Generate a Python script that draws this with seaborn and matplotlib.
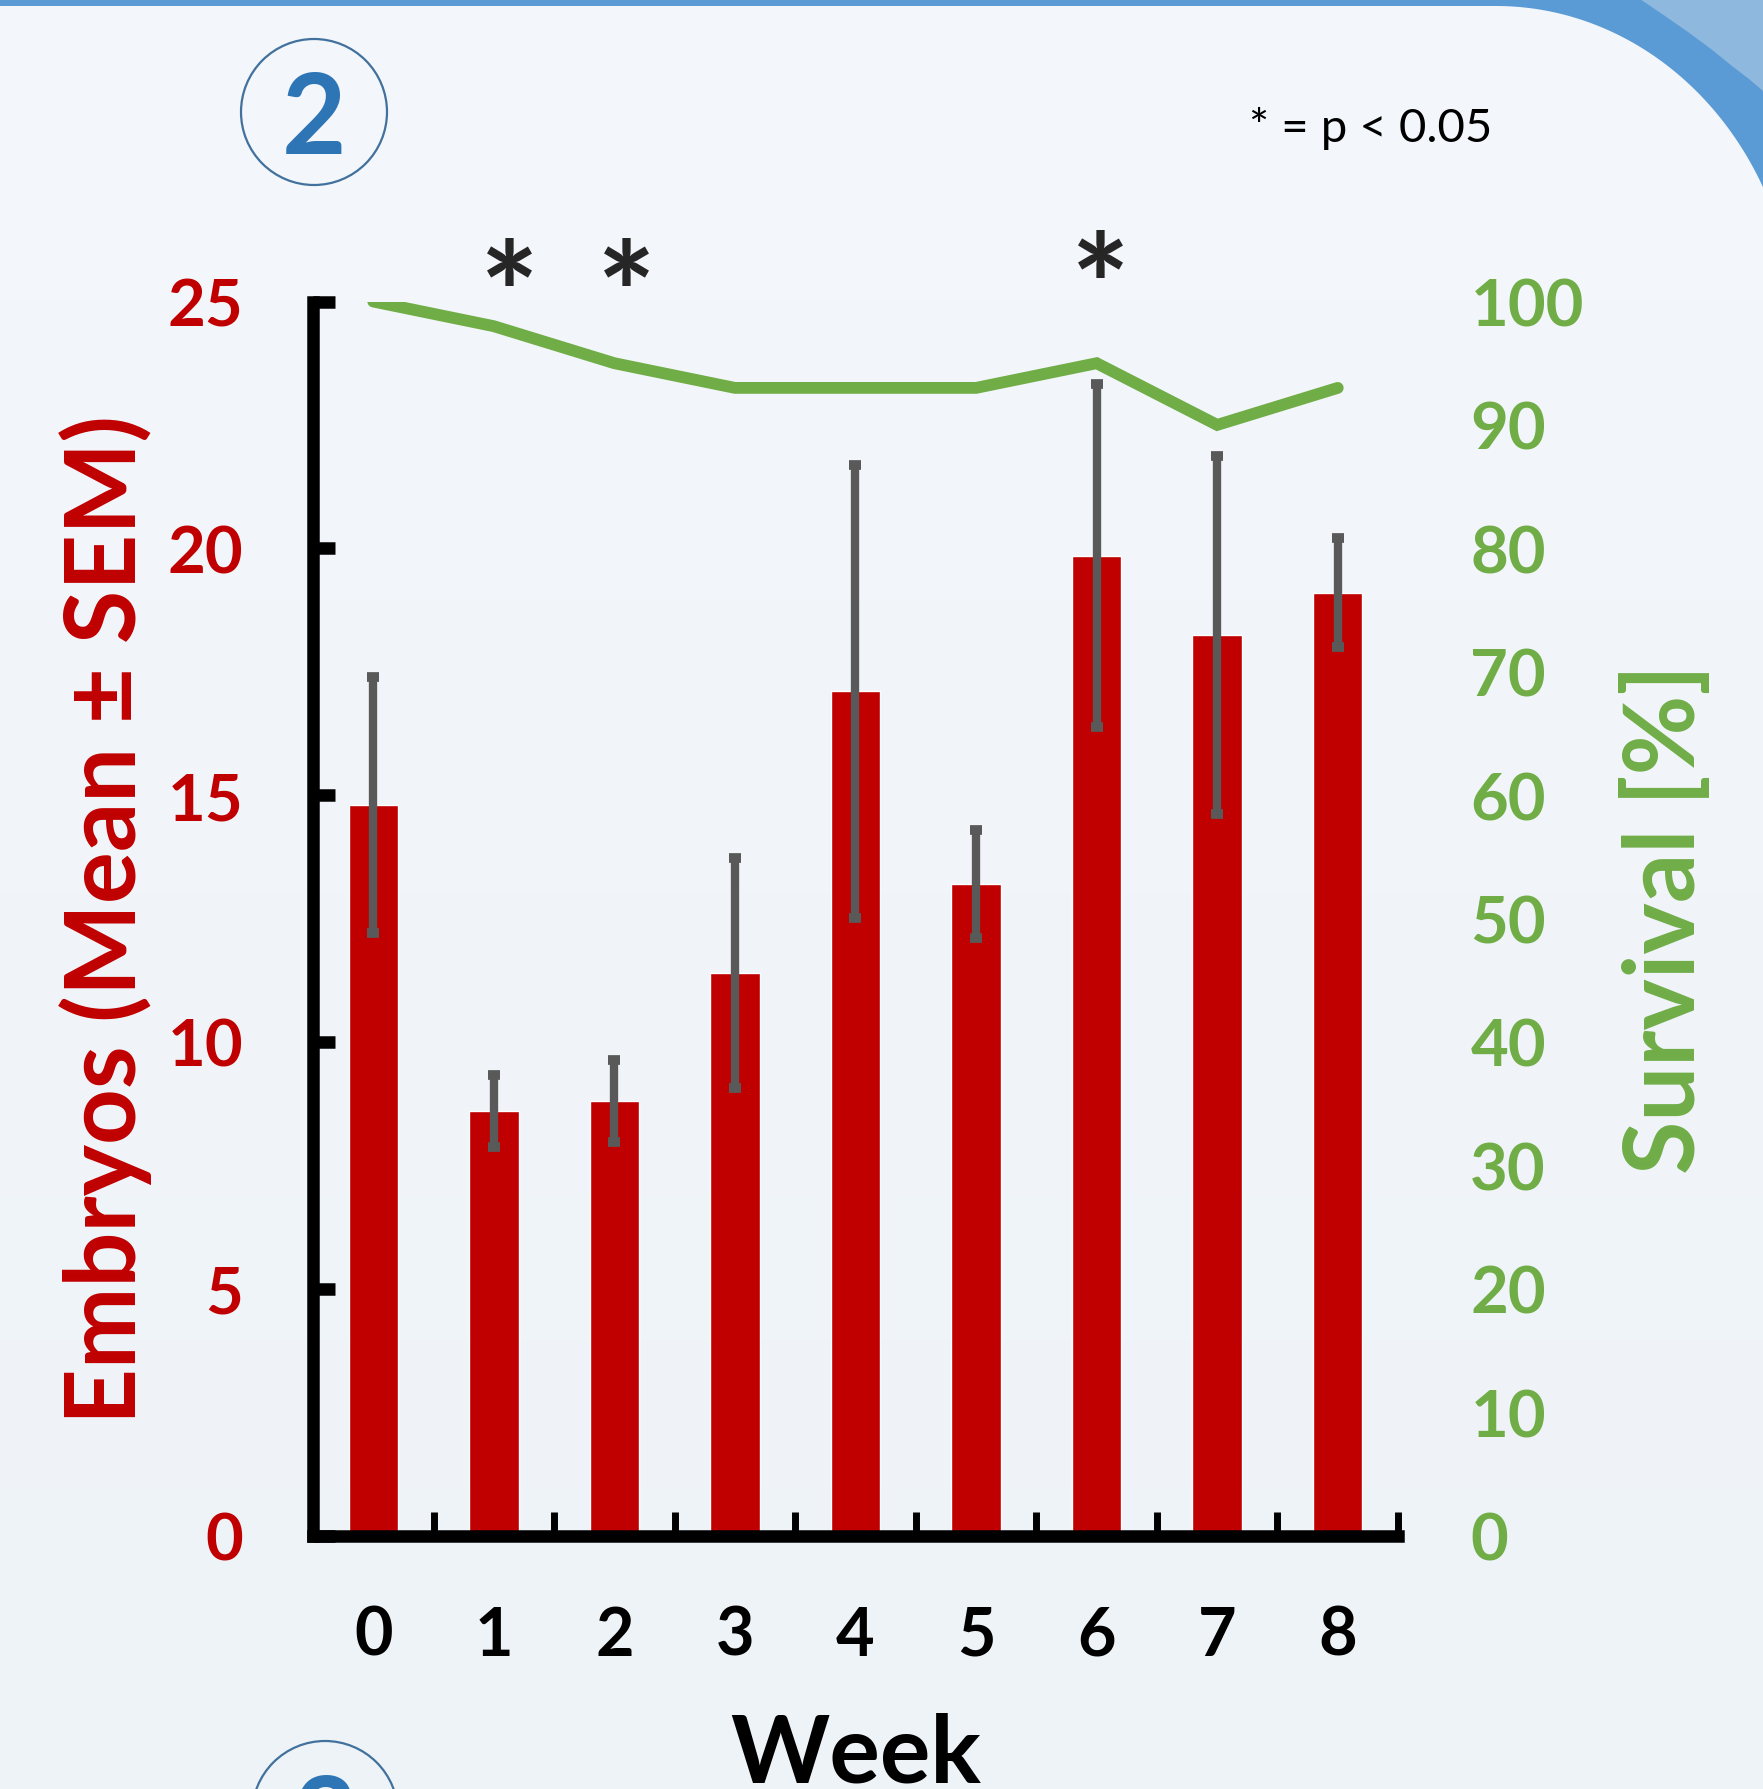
import numpy as np
import pandas as pd
import matplotlib
matplotlib.use("Agg")
import matplotlib.pyplot as plt
from matplotlib.patches import Circle, Polygon, Rectangle
import seaborn as sns

# ---- data -------------------------------------------------------------
weeks = [0, 1, 2, 3, 4, 5, 6, 7, 8]
embryo_mean = [14.8, 8.6, 8.8, 11.4, 17.1, 13.2, 19.85, 18.25, 19.1]
embryo_sem = [2.6, 0.72, 0.83, 2.33, 4.58, 1.1, 3.48, 3.63, 1.1]
survival_pct = [100, 98, 95, 93, 93, 93, 95, 90, 93]
significant_weeks = [1, 2, 6]
left_ticks = [0, 5, 10, 15, 20, 25]
right_ticks = [0, 10, 20, 30, 40, 50, 60, 70, 80, 90, 100]

RED = "#C00000"
GREEN = "#70AD47"
GREY = "#595959"
BLUE = "#5B9BD5"
LIGHT_BLUE = "#8FB8DE"
NAVY = "#41719C"
DIGIT_BLUE = "#2E75B6"

sns.set_style("white")
plt.rcParams["font.family"] = ["Lato", "DejaVu Sans"]

W, H = 1763, 1790
fig = plt.figure(figsize=(W / 100, H / 100), dpi=100)
fig.patch.set_facecolor("#F2F6FA")

# ---- panel background -------------------------------------------------
bg = fig.add_axes([0, 0, 1, 1], zorder=-10)
bg.set_xlim(0, W)
bg.set_ylim(H, 0)
bg.axis("off")
grad = np.linspace(0, 1, 256)[:, None]
bg.imshow(grad, extent=[0, W, H, 0], aspect="auto",
          cmap=matplotlib.colors.LinearSegmentedColormap.from_list(
              "panel", ["#F4F7FB", "#EEF3F8"]))
bg.add_patch(Rectangle((0, 0), W, 7, color=BLUE, lw=0))

# rounded top-right corner of the panel (elliptical arc)
cx, cy, rx, ry = 1496, 340, 300, 333
t = np.linspace(0, np.pi / 2, 200)
ax_pts = cx + rx * np.sin(t)
ay_pts = cy - ry * np.cos(t)
keep = ax_pts <= W
arc = list(zip(ax_pts[keep], ay_pts[keep]))
corner = [(0, 0), (0, 7)] + arc + [(W, ay_pts[keep][-1]), (W, 0)]
bg.add_patch(Polygon(corner, closed=True, color=BLUE, lw=0))
# lighter outer band
outer = [(1640, 0), (1665, 17), (1688, 33), (1711, 50), (1732, 67),
         (1749, 80), (1763, 92), (1763, 0)]
bg.add_patch(Polygon(outer, closed=True, color=LIGHT_BLUE, lw=0))

# numbered badges
bg.add_patch(Circle((314, 113), 73, fill=False, ec=NAVY, lw=1.6))
bg.text(314, 154, "2", color=DIGIT_BLUE, fontsize=80, fontweight="bold",
        ha="center", va="baseline")
bg.add_patch(Circle((325, 1815), 73, fill=False, ec=NAVY, lw=1.6))
bg.text(325, 1856, "3", color=DIGIT_BLUE, fontsize=80, fontweight="bold",
        ha="center", va="baseline")
bg.text(1249, 142, "* = p < 0.05", color="black", fontsize=34,
        ha="left", va="baseline")

# ---- main chart -------------------------------------------------------
df = pd.DataFrame({"week": weeks, "embryos": embryo_mean,
                   "sem": embryo_sem, "survival": survival_pct})

ax = fig.add_axes([0.1775, 0.1416, 0.6155, 0.6894])
ax.patch.set_alpha(0)
sns.barplot(data=df, x="week", y="embryos", color=RED, saturation=1,
            width=0.41, errorbar=None, ax=ax, zorder=2)
ax.errorbar(np.arange(len(weeks)), df["embryos"], yerr=df["sem"], fmt="none",
            ecolor=GREY, elinewidth=6, capsize=4.4, capthick=7, zorder=3)

ax.set_xlim(-0.5, 8.5)
ax.set_ylim(0, 25)
ax.set_yticks(left_ticks)
ax.set_xticks(range(len(weeks)))
ax.set_xticklabels([str(w) for w in weeks])
ax.set_xticks(np.arange(0.5, 9.0, 1.0), minor=True)

for side in ["top", "right"]:
    ax.spines[side].set_visible(False)
for side in ["left", "bottom"]:
    ax.spines[side].set_color("black")
    ax.spines[side].set_linewidth(9)
    ax.spines[side].set_capstyle("projecting")

ax.tick_params(axis="y", which="major", left=True, direction="in", length=16,
               width=9, color="black", pad=50, labelsize=47, labelcolor=RED)
ax.tick_params(axis="x", which="major", bottom=True, length=0, pad=50,
               labelsize=48, labelcolor="black")
ax.tick_params(axis="x", which="minor", bottom=True, direction="in",
               length=17, width=5, color="black")
for lab in ax.get_yticklabels() + ax.get_xticklabels():
    lab.set_fontweight("bold")

ax.set_xlabel("Week", fontsize=68, fontweight="bold", color="black")
ax.xaxis.label.set_va("baseline")
ax.xaxis.set_label_coords(0.5, -0.199)
ax.set_ylabel("Embryos (Mean ± SEM)", fontsize=70, fontweight="bold",
              color=RED)
ax.yaxis.label.set_va("center")
ax.yaxis.set_label_coords(-0.191, 0.5)

# significance markers
star_x = {1: 1.13, 2: 2.1, 6: 6.03}
star_y = {1: 24.14, 2: 24.14, 6: 24.3}
for wk in significant_weeks:
    ax.text(star_x[wk], star_y[wk], "*", fontsize=100, fontweight="bold",
            ha="center", va="baseline", clip_on=False)

# survival on the secondary axis
ax2 = ax.twinx()
ax2.patch.set_alpha(0)
sns.lineplot(x=np.arange(len(weeks)), y=df["survival"], color=GREEN,
             linewidth=8.5, ax=ax2, zorder=4,
             solid_capstyle="round", solid_joinstyle="miter")
ax2.set_ylim(0, 100)
ax2.set_yticks(right_ticks)
for side in ax2.spines:
    ax2.spines[side].set_visible(False)
ax2.tick_params(axis="y", length=0, pad=52, labelsize=47, labelcolor=GREEN)
for lab in ax2.get_yticklabels():
    lab.set_fontweight("bold")
ax2.set_ylabel("Survival [%]", fontsize=70, fontweight="bold", color=GREEN,
               rotation=90)
ax2.yaxis.label.set_va("center")
ax2.yaxis.set_label_coords(1.246, 0.5)
ax2.set_xlim(-0.5, 8.5)

fig.savefig("out.png", dpi=100, facecolor=fig.get_facecolor())
